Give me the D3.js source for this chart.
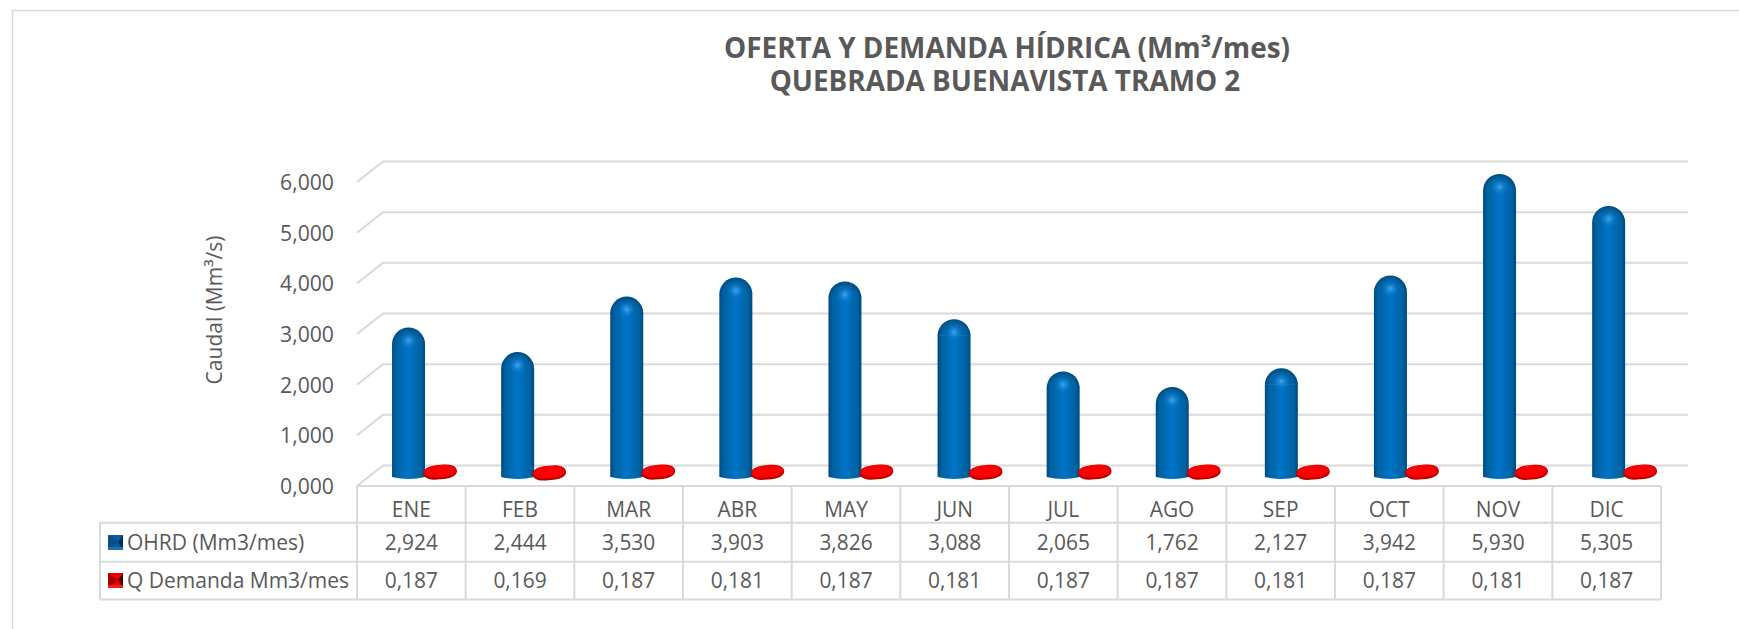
<!DOCTYPE html>
<html><head><meta charset="utf-8">
<script src="https://cdn.jsdelivr.net/npm/d3@7"></script>
<style>html,body{margin:0;padding:0;background:#fff}svg{display:block}text{font-family:"Open Sans","Noto Sans",sans-serif}</style>
</head><body><div id="c"></div>
<script>
const months=["ENE","FEB","MAR","ABR","MAY","JUN","JUL","AGO","SEP","OCT","NOV","DIC"];
const ohrd=[2.924,2.444,3.530,3.903,3.826,3.088,2.065,1.762,2.127,3.942,5.930,5.305];
const demanda=[0.187,0.169,0.187,0.181,0.187,0.181,0.187,0.187,0.181,0.187,0.181,0.187];
const yTicks=[0,1,2,3,4,5,6];
const seriesNames=["OHRD (Mm3/mes)","Q Demanda Mm3/mes"];
const titleLines=["OFERTA Y DEMANDA HÍDRICA (Mm³/mes)","QUEBRADA BUENAVISTA TRAMO 2"];
const axisTitle="Caudal (Mm³/s)";

const W=1739,H=629,GRID="#d9d9d9",TXT="#595959";
const svg=d3.select("#c").append("svg").attr("width",W).attr("height",H);
const fmt=d3.formatLocale({decimal:",",thousands:".",grouping:[3],currency:["",""]}).format(".3f");

const yGrid=d3.scaleLinear().domain([0,6]).range([486,182]);
const yBar=d3.scaleLinear().domain([0,6]).range([477,170.4]);
const xCol=d3.scaleBand().domain(months).range([357,1661]);
const xBar=d3.scaleBand().domain(months).range([354,354+12*109.1]);
const DX=26,DY=-20.5,RIGHT=1688;

const defs=svg.append("defs");
const lg=defs.append("linearGradient").attr("id","body");
[[0,"#004a80"],[.12,"#00619f"],[.5,"#0074c8"],[.88,"#00619f"],[1,"#004a80"]].forEach(s=>lg.append("stop").attr("offset",s[0]).attr("stop-color",s[1]));
const rg=defs.append("radialGradient").attr("id","cap").attr("gradientUnits","userSpaceOnUse").attr("cx",0).attr("cy",16.5).attr("r",16.5);
[[0,"#0074c8"],[.76,"#00619f"],[1,"#004a80"]].forEach(s=>rg.append("stop").attr("offset",s[0]).attr("stop-color",s[1]));
const hl=defs.append("radialGradient").attr("id","hl");
[[0,"#3fa6f0",1],[.5,"#1f88d6",.55],[1,"#0074c8",0]].forEach(s=>hl.append("stop").attr("offset",s[0]).attr("stop-color",s[1]).attr("stop-opacity",s[2]));
const rr=defs.append("radialGradient").attr("id","red");
[[0,"#ff0000"],[.88,"#fb0000"],[1,"#cc0000"]].forEach(s=>rr.append("stop").attr("offset",s[0]).attr("stop-color",s[1]));

// outer frame
svg.append("path").attr("d",`M${W},10.5H12.5V${H}`).attr("fill","none").attr("stroke",GRID).attr("stroke-width",1.5);

// title
const t=svg.append("text").attr("text-anchor","middle").attr("fill",TXT).attr("font-weight",700).attr("font-size",27.9);
titleLines.forEach((l,i)=>t.append("tspan").attr("x",i?1005:1007).attr("y",i?91:58).text(l));

// gridlines with perspective stubs
const grid=svg.append("g").attr("fill","none").attr("stroke",GRID).attr("stroke-width",2);
yTicks.forEach(v=>{const y=yGrid(v);
 grid.append("path").attr("d",`M357,${y}L${357+DX},${y+DY}H${RIGHT}`);});

// y labels
svg.append("g").selectAll("text").data(yTicks).join("text")
 .attr("x",334).attr("y",d=>yGrid(d)+8).attr("text-anchor","end").attr("fill",TXT).attr("font-size",21.2).text(d=>fmt(d));
svg.append("text").attr("transform","translate(222,310) rotate(-90)").attr("text-anchor","middle").attr("fill",TXT).attr("font-size",21).text(axisTitle);

// blue bars
const BW=33,r=BW/2;
const bars=svg.append("g").selectAll("g").data(months).join("g")
 .attr("transform",(m,i)=>`translate(${xBar(m)+xBar.bandwidth()/2},${yBar(ohrd[i])})`);
bars.append("path").attr("fill","url(#body)")
 .attr("d",(m,i)=>{const h=yBar(0)-yBar(ohrd[i]);return `M${-r},${r-.5}V${h}Q0,${h+4} ${r},${h}V${r-.5}Z`;});
bars.append("path").attr("fill","url(#cap)").attr("d",`M${-r},${r}A${r},${r} 0 0 1 ${r},${r}Z`);
bars.append("circle").attr("cx",0).attr("cy",13).attr("r",9).attr("fill","url(#hl)");

// red discs
const discs=svg.append("g").selectAll("g").data(months).join("g")
 .attr("transform",(m,i)=>`translate(${xBar(m)+xBar.bandwidth()/2+31.5},${yBar(demanda[i])+3.8}) rotate(-5)`);
discs.append("rect").attr("x",-16.8).attr("y",-5.2).attr("width",33.6).attr("height",13.2).attr("rx",13).attr("ry",6.4).attr("fill","#b00000");
discs.append("rect").attr("x",-16.6).attr("y",-6.4).attr("width",33.2).attr("height",12.8).attr("rx",13).attr("ry",6.4).attr("fill","url(#red)");

// data table
const tb=svg.append("g").attr("fill","none").attr("stroke",GRID).attr("stroke-width",2);
const rowY=[486,522.7,561.7,599.5];
months.forEach(m=>tb.append("line").attr("x1",xCol(m)).attr("x2",xCol(m)).attr("y1",rowY[0]).attr("y2",rowY[3]));
tb.append("line").attr("x1",1661).attr("x2",1661).attr("y1",rowY[0]).attr("y2",rowY[3]);
tb.append("line").attr("x1",100).attr("x2",100).attr("y1",rowY[1]).attr("y2",rowY[3]);
tb.append("line").attr("x1",357).attr("x2",1661).attr("y1",rowY[0]).attr("y2",rowY[0]);
rowY.slice(1).forEach(y=>tb.append("line").attr("x1",100).attr("x2",1661).attr("y1",y).attr("y2",y));

const cell=(sel,y)=>sel.attr("x",d=>xCol(d.m)+xCol.bandwidth()/2).attr("y",y).attr("text-anchor","middle").attr("fill",TXT).attr("font-size",20.9).text(d=>d.t);
cell(svg.append("g").selectAll("text").data(months.map(m=>({m,t:m}))).join("text"),517);
cell(svg.append("g").selectAll("text").data(months.map((m,i)=>({m,t:fmt(ohrd[i])}))).join("text"),550);
cell(svg.append("g").selectAll("text").data(months.map((m,i)=>({m,t:fmt(demanda[i])}))).join("text"),588);

// legend keys
[["#0b5c9c","#0a4f88","#003055","#1a72b4"],["#f00000","#a80000","#4a0000","#e82020"]].forEach((c,i)=>{
 const y=[535,573][i],g=svg.append("g").attr("transform",`translate(108,${y})`),S=15,cx=10,cy=7;
 g.append("rect").attr("width",S).attr("height",S).attr("fill",c[0]);
 g.append("path").attr("d",`M0,0L${cx},${cy}L0,${S}Z`).attr("fill",c[1]);
 g.append("path").attr("d",`M${S},0V${S}L${cx},${cy}Z`).attr("fill",c[2]);
 g.append("rect").attr("y",S-3).attr("width",S).attr("height",3).attr("fill",c[3]);
});
svg.append("g").selectAll("text").data(seriesNames).join("text").attr("x",127).attr("y",(d,i)=>[550,588][i]).attr("fill",TXT).attr("font-size",21).text(d=>d);
</script></body></html>
